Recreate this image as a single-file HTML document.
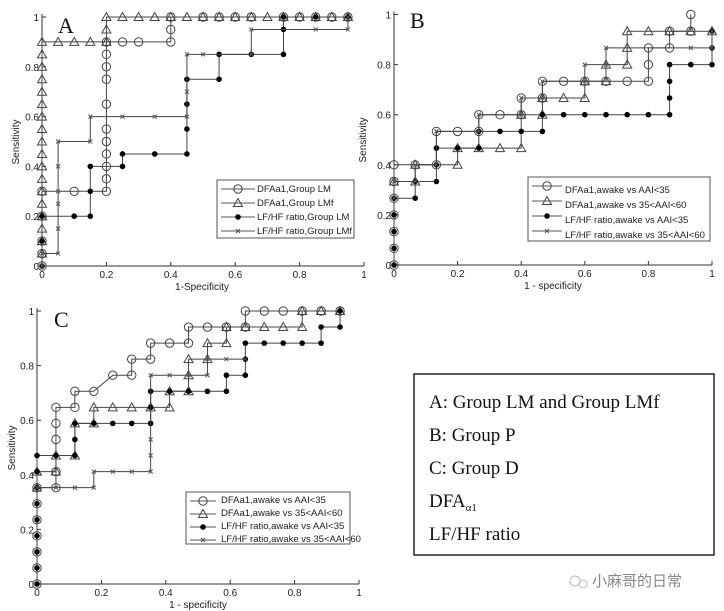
<!DOCTYPE html>
<html><head><meta charset="utf-8"><style>
html,body{margin:0;padding:0;background:#fff;}
svg{display:block;}
.t{font-family:"Liberation Sans",sans-serif;font-size:10px;fill:#222;}
.s{font-family:"Liberation Serif",serif;fill:#111;}
.lg{font-family:"Liberation Sans",sans-serif;font-size:9.5px;fill:#222;}
</style></head><body>
<svg id="svg" width="724" height="611" viewBox="0 0 724 611" xmlns="http://www.w3.org/2000/svg">
<rect width="724" height="611" fill="#fff"/>
<g id="plots" fill="none" stroke="#333" stroke-width="1"></g>
<text class="s" x="58" y="33" font-size="22">A</text>
<text class="s" x="410" y="28" font-size="22">B</text>
<text class="s" x="54" y="327" font-size="22">C</text>
<text class="t" x="202" y="290" text-anchor="middle">1-Specificity</text>
<text class="t" x="553" y="289" text-anchor="middle">1 - specificity</text>
<text class="t" x="198" y="608" text-anchor="middle">1 - specificity</text>
<text class="t" transform="translate(19,142) rotate(-90)" text-anchor="middle">Sensitivity</text>
<text class="t" transform="translate(366,140) rotate(-90)" text-anchor="middle">Sensitivity</text>
<text class="t" transform="translate(15,448) rotate(-90)" text-anchor="middle">Sensitivity</text>
<text class="lg" x="257" y="192">DFAa1,Group LM</text>
<text class="lg" x="257" y="206">DFAa1,Group LMf</text>
<text class="lg" x="257" y="220">LF/HF ratio,Group LM</text>
<text class="lg" x="257" y="234">LF/HF ratio,Group LMf</text>
<text class="lg" x="565" y="193">DFAa1,awake vs AAI&lt;35</text>
<text class="lg" x="565" y="208">DFAa1,awake vs 35&lt;AAI&lt;60</text>
<text class="lg" x="565" y="223">LF/HF ratio,awake vs AAI&lt;35</text>
<text class="lg" x="565" y="238">LF/HF ratio,awake vs 35&lt;AAI&lt;60</text>
<text class="lg" x="221" y="503" font-size="8.5">DFAa1,awake vs AAI&lt;35</text>
<text class="lg" x="221" y="516" font-size="8.5">DFAa1,awake vs 35&lt;AAI&lt;60</text>
<text class="lg" x="221" y="529" font-size="8.5">LF/HF ratio,awake vs AAI&lt;35</text>
<text class="lg" x="221" y="542" font-size="8.5">LF/HF ratio,awake vs 35&lt;AAI&lt;60</text>
<rect x="414" y="374" width="300" height="181" fill="none" stroke="#222" stroke-width="1.5"/>
<text class="s" x="429" y="408" font-size="19">A: Group LM and Group LMf</text>
<text class="s" x="429" y="441" font-size="19">B: Group P</text>
<text class="s" x="429" y="474" font-size="19">C: Group D</text>
<text class="s" x="429" y="507" font-size="19">DFA<tspan font-size="11" dy="4">α1</tspan></text>
<text class="s" x="429" y="540" font-size="19">LF/HF ratio</text>
<text x="592" y="586" font-family="'Noto Sans CJK SC',sans-serif" font-size="15" fill="#888">小麻哥的日常</text>
<circle cx="575" cy="581" r="5" fill="none" stroke="#bbb"/><circle cx="583" cy="584" r="4" fill="none" stroke="#bbb"/>
</svg>
<script>
const NS="http://www.w3.org/2000/svg";
const G=document.getElementById('plots');
function el(n,a,p){const e=document.createElementNS(NS,n);for(const k in a)e.setAttribute(k,a[k]);(p||G).appendChild(e);return e;}
function marker(type,x,y,p){
 if(type==='o')el('circle',{cx:x,cy:y,r:4.2,fill:'none',stroke:'#444'},p);
 else if(type==='^')el('polygon',{points:`${x},${y-4.5} ${x+4.5},${y+3.5} ${x-4.5},${y+3.5}`,fill:'none',stroke:'#444'},p);
 else if(type==='.')el('circle',{cx:x,cy:y,r:2.8,fill:'#000',stroke:'none'},p);
 else if(type==='x'){el('path',{d:`M${x-2},${y-2}L${x+2},${y+2}M${x-2},${y+2}L${x+2},${y-2}`,stroke:'#555'},p);}
}
function axes(P){
 el('path',{d:`M${P.x0},${P.y1-3}V${P.y0}H${P.x1}`});
 for(let i=0;i<=5;i++){const v=i*0.2;const x=P.x0+v*(P.x1-P.x0),y=P.y0-v*(P.y0-P.y1);
  el('path',{d:`M${x},${P.y0}v-4M${P.x0},${y}h4`});
  const lb=i==0?'0':(i==5?'1':v.toFixed(1));
  const t=el('text',{x:x,y:P.y0+12,'text-anchor':'middle',class:'t',stroke:'none'});t.textContent=lb;
  const t2=el('text',{x:P.x0-3,y:y+4,'text-anchor':'end',class:'t',stroke:'none'});t2.textContent=lb;}
}
function series(P,type,pts,col){
 const m=p=>[P.x0+p[0]*(P.x1-P.x0),P.y0-p[1]*(P.y0-P.y1)];
 el('polyline',{points:pts.map(p=>m(p).join(',')).join(' '),stroke:col||'#444'});
 pts.forEach(p=>{const q=m(p);marker(type,q[0],q[1]);});
}
function legend(x,y,w,h,dy,items,len){
 el('rect',{x:x,y:y,width:w,height:h,fill:'#fff',stroke:'#555'});
 items.forEach((t,i)=>{const yy=y+9+i*dy;el('path',{d:`M${x+4},${yy}h${len}`,stroke:'#555'});marker(t,x+4+len/2,yy);});
}
const range=(x,a,b,s)=>{const r=[];for(let v=a;v<=b+1e-9;v+=s)r.push([x,v]);return r;};
const A={x0:42,x1:364,y0:266,y1:17};axes(A);
series(A,'o',[[0,0],[0,0.05],[0,0.1],[0,0.2],[0,0.3],[0.1,0.3],[0.2,0.3],[0.2,0.35],[0.2,0.4],[0.2,0.45],[0.2,0.5],[0.2,0.55],[0.2,0.65],[0.2,0.75],[0.2,0.8],[0.2,0.85],[0.2,0.9],[0.25,0.9],[0.3,0.9],[0.4,0.9],[0.4,0.95],[0.4,1],[0.5,1],[0.55,1],[0.6,1],[0.65,1],[0.75,1],[0.8,1],[0.85,1],[0.9,1],[0.95,1]]);
series(A,'^',[...range(0,0.05,0.9,0.05),[0.05,0.9],[0.1,0.9],[0.15,0.9],[0.2,0.9],[0.2,0.95],[0.2,1],[0.25,1],[0.3,1],[0.35,1],[0.4,1],[0.45,1],[0.5,1],[0.55,1],[0.6,1],[0.65,1],[0.7,1],[0.75,1],[0.8,1],[0.85,1],[0.9,1],[0.95,1]]);
series(A,'.',[[0,0],[0,0.1],[0,0.2],[0.1,0.2],[0.15,0.2],[0.15,0.3],[0.15,0.4],[0.25,0.4],[0.25,0.45],[0.35,0.45],[0.45,0.45],[0.45,0.55],[0.45,0.65],[0.45,0.75],[0.55,0.75],[0.55,0.85],[0.65,0.85],[0.75,0.85],[0.75,0.95],[0.75,1],[0.85,1],[0.95,1]]);
series(A,'x',[[0,0],[0,0.05],[0.05,0.05],[0.05,0.15],[0.05,0.25],[0.05,0.3],[0.05,0.4],[0.05,0.5],[0.15,0.5],[0.15,0.6],[0.25,0.6],[0.35,0.6],[0.45,0.6],[0.45,0.7],[0.45,0.85],[0.5,0.85],[0.65,0.85],[0.65,0.95],[0.85,0.95],[0.95,0.95],[0.95,1]]);
legend(217,180,137,58,14,['o','^','.','x'],34);
const B={x0:394,x1:712,y0:265,y1:14.5};axes(B);const u=1/15;
series(B,'o',[[0,0],[0,u],[0,2*u],[0,3*u],[0,4*u],[0,5*u],[0,6*u],[u,6*u],[2*u,6*u],[2*u,8*u],[3*u,8*u],[4*u,8*u],[4*u,9*u],[5*u,9*u],[6*u,9*u],[6*u,10*u],[7*u,10*u],[7*u,11*u],[8*u,11*u],[9*u,11*u],[10*u,11*u],[11*u,11*u],[12*u,11*u],[12*u,12*u],[12*u,13*u],[13*u,13*u],[13*u,14*u],[14*u,14*u],[14*u,15*u]]);
series(B,'^',[[0,5*u],[u,5*u],[u,6*u],[3*u,6*u],[3*u,7*u],[4*u,7*u],[5*u,7*u],[6*u,7*u],[6*u,9*u],[7*u,9*u],[7*u,10*u],[8*u,10*u],[9*u,10*u],[9*u,11*u],[10*u,11*u],[10*u,12*u],[11*u,12*u],[11*u,13*u],[11*u,14*u],[12*u,14*u],[13*u,14*u],[14*u,14*u],[15*u,14*u]]);
series(B,'.',[[0,0],[0,u],[0,2*u],[0,3*u],[0,4*u],[u,4*u],[u,5*u],[2*u,5*u],[2*u,6*u],[2*u,7*u],[3*u,7*u],[4*u,7*u],[4*u,8*u],[5*u,8*u],[6*u,8*u],[7*u,8*u],[7*u,9*u],[8*u,9*u],[9*u,9*u],[10*u,9*u],[11*u,9*u],[12*u,9*u],[13*u,9*u],[13*u,10*u],[13*u,11*u],[13*u,12*u],[14*u,12*u],[15*u,12*u],[15*u,13*u],[15*u,14*u]]);
series(B,'x',[[0,4*u],[0,5*u],[u,5*u],[u,6*u],[2*u,6*u],[2*u,8*u],[4*u,8*u],[4*u,9*u],[6*u,9*u],[6*u,10*u],[7*u,10*u],[7*u,11*u],[9*u,11*u],[9*u,12*u],[10*u,12*u],[10*u,13*u],[14*u,13*u],[15*u,13*u],[15*u,14*u]]);
legend(528,177,182,64,15,['o','^','.','x'],30);
const C={x0:37,x1:359,y0:584,y1:311};axes(C);const w=1/17;
series(C,'o',[[0,0],[0,w],[0,2*w],[0,3*w],[0,4*w],[0,5*w],[0,6*w],[w,6*w],[w,7*w],[w,9*w],[w,10*w],[w,11*w],[2*w,11*w],[2*w,12*w],[3*w,12*w],[4*w,13*w],[5*w,13*w],[5*w,14*w],[6*w,14*w],[6*w,15*w],[7*w,15*w],[8*w,15*w],[8*w,16*w],[9*w,16*w],[10*w,16*w],[11*w,16*w],[11*w,17*w],[12*w,17*w],[13*w,17*w],[14*w,17*w],[15*w,17*w],[16*w,17*w]]);
series(C,'^',[[0,6*w],[0,7*w],[w,7*w],[w,8*w],[2*w,8*w],[2*w,10*w],[3*w,10*w],[3*w,11*w],[4*w,11*w],[5*w,11*w],[6*w,11*w],[7*w,11*w],[7*w,12*w],[8*w,12*w],[8*w,13*w],[8*w,14*w],[9*w,14*w],[9*w,15*w],[10*w,15*w],[10*w,16*w],[11*w,16*w],[12*w,16*w],[13*w,16*w],[14*w,16*w],[14*w,17*w],[15*w,17*w],[16*w,17*w]]);
series(C,'.',[[0,0],[0,w],[0,2*w],[0,3*w],[0,4*w],[0,5*w],[0,6*w],[0,7*w],[0,8*w],[w,8*w],[2*w,8*w],[2*w,9*w],[2*w,10*w],[3*w,10*w],[4*w,10*w],[5*w,10*w],[6*w,10*w],[6*w,11*w],[6*w,12*w],[7*w,12*w],[8*w,12*w],[9*w,12*w],[10*w,12*w],[10*w,13*w],[11*w,13*w],[11*w,14*w],[11*w,15*w],[12*w,15*w],[13*w,15*w],[14*w,15*w],[15*w,15*w],[15*w,16*w],[16*w,16*w],[16*w,17*w]]);
series(C,'x',[[0,6*w],[w,6*w],[2*w,6*w],[3*w,6*w],[3*w,7*w],[4*w,7*w],[5*w,7*w],[6*w,7*w],[6*w,8*w],[6*w,9*w],[6*w,13*w],[7*w,13*w],[8*w,13*w],[9*w,13*w],[9*w,14*w],[10*w,14*w],[11*w,14*w]]);
legend(186,492,164,52,13,['o','^','.','x'],26);
</script>
</body></html>
